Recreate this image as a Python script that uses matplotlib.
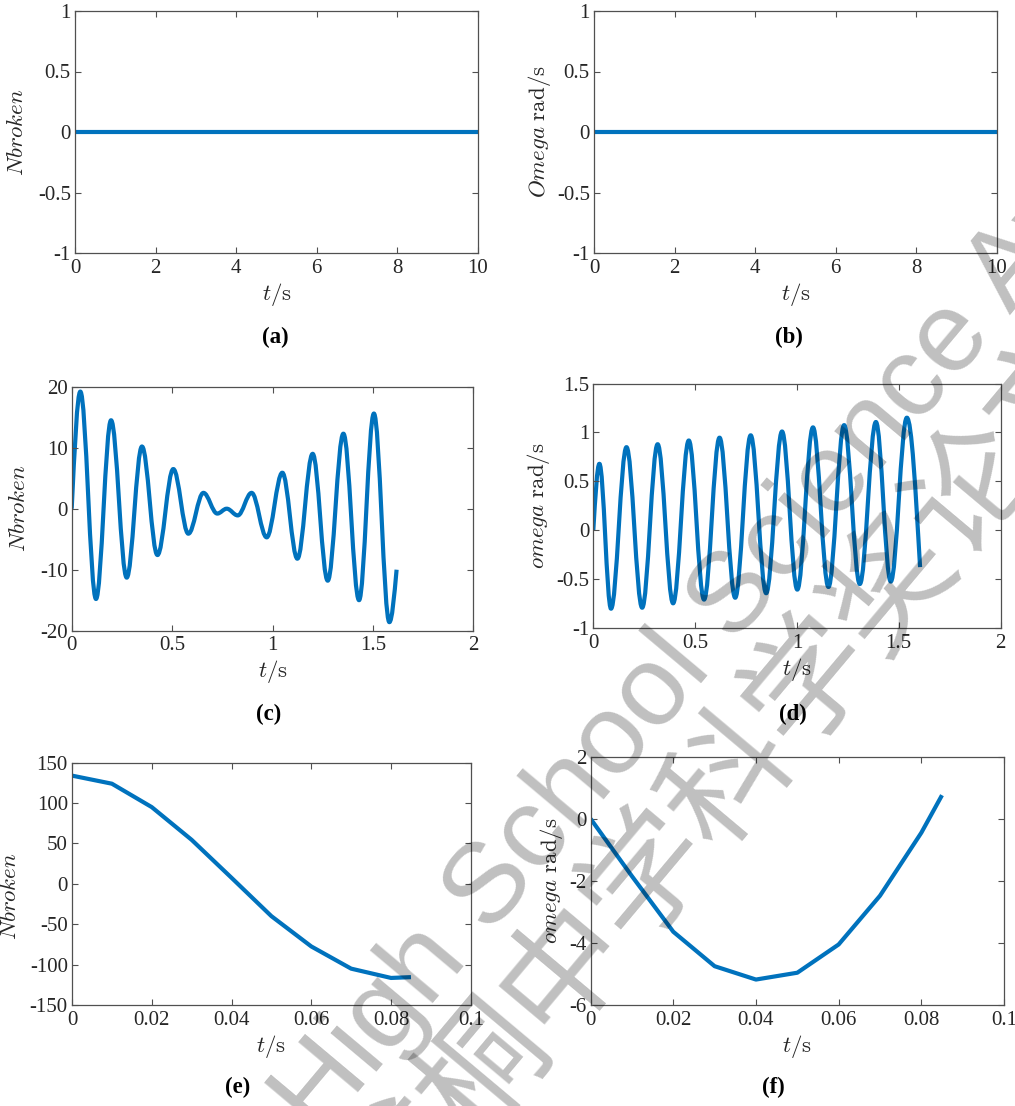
import matplotlib
matplotlib.use("Agg")
import matplotlib.pyplot as plt
from matplotlib.path import Path
from matplotlib.patches import PathPatch
from matplotlib.ticker import FuncFormatter

plt.rcParams['font.family'] = ['Liberation Serif', 'DejaVu Serif']
plt.rcParams['mathtext.fontset'] = 'cm'
plt.rcParams['axes.unicode_minus'] = False

# ---------------- data ----------------
a_t = [0, 10]
a_y = [0, 0]
b_t = [0, 10]
b_y = [0, 0]

# (c) Nbroken oscillation: start, alternating extrema, end
c_t = [0.0, 0.043, 0.121, 0.196, 0.274, 0.350, 0.427, 0.506, 0.581, 0.656, 0.725,
       0.772, 0.827, 0.896, 0.971, 1.049, 1.124, 1.200, 1.275, 1.353, 1.431,
       1.505, 1.582, 1.618]
c_y = [0.0, 19.2, -14.8, 14.5, -11.3, 10.2, -7.6, 6.5, -4.1, 2.6, -0.8,
       0.0, -1.1, 2.6, -4.7, 5.9, -8.2, 9.0, -11.8, 12.3, -15.0,
       15.6, -18.6, -10.0]

# (d) omega oscillation: start, alternating extrema, end
d_t = [0.0, 0.030, 0.087, 0.163, 0.240, 0.316, 0.392, 0.469, 0.544, 0.620, 0.697,
       0.773, 0.849, 0.927, 1.002, 1.079, 1.155, 1.232, 1.309, 1.388, 1.461,
       1.540, 1.605]
d_y = [0.0, 0.68, -0.80, 0.85, -0.79, 0.88, -0.745, 0.918, -0.707, 0.947, -0.688,
       0.971, -0.642, 1.010, -0.605, 1.052, -0.578, 1.075, -0.548, 1.107, -0.523,
       1.151, -0.375]

e_t = [0, 0.01, 0.02, 0.03, 0.04, 0.05, 0.06, 0.07, 0.08, 0.085]
e_y = [134, 124, 95, 54.5, 7.5, -40, -77.5, -105, -116.5, -115.5]

f_t = [0, 0.01, 0.02, 0.03, 0.04, 0.05, 0.06, 0.07, 0.08, 0.085]
f_y = [0, -1.85, -3.64, -4.75, -5.18, -4.96, -4.05, -2.48, -0.45, 0.76]

ylabels = [r'$Nbroken$', r'$Omega\ \mathrm{rad/s}$', r'$Nbroken$',
           r'$omega\ \mathrm{rad/s}$', r'$Nbroken$', r'$omega\ \mathrm{rad/s}$']
xlabel = r'$t/\mathrm{s}$'
panel_tags = ['(a)', '(b)', '(c)', '(d)', '(e)', '(f)']

BLUE = '#0072BD'
W, H = 1015, 1106

fig = plt.figure(figsize=(W / 100, H / 100), dpi=100)


def px_axes(l, t, r, b):
    return fig.add_axes([l / W, 1 - b / H, (r - l) / W, (b - t) / H])


def smooth_path(ts, ys):
    n = len(ts)
    slopes = []
    for i in range(n):
        if i == 0:
            m = 1.5 * (ys[1] - ys[0]) / (ts[1] - ts[0])
        elif i == n - 1:
            m = 1.5 * (ys[-1] - ys[-2]) / (ts[-1] - ts[-2])
        elif (ys[i] - ys[i - 1]) * (ys[i + 1] - ys[i]) <= 0:
            m = 0.0
        else:
            m = 0.5 * ((ys[i] - ys[i - 1]) / (ts[i] - ts[i - 1]) +
                       (ys[i + 1] - ys[i]) / (ts[i + 1] - ts[i]))
        slopes.append(m)
    verts = [(ts[0], ys[0])]
    codes = [Path.MOVETO]
    for i in range(n - 1):
        dt = ts[i + 1] - ts[i]
        h0 = 0.363 * dt if slopes[i] == 0 else dt / 3
        h1 = 0.363 * dt if slopes[i + 1] == 0 else dt / 3
        verts += [(ts[i] + h0, ys[i] + slopes[i] * h0),
                  (ts[i + 1] - h1, ys[i + 1] - slopes[i + 1] * h1),
                  (ts[i + 1], ys[i + 1])]
        codes += [Path.CURVE4] * 3
    return Path(verts, codes)


boxes = [(75, 11, 478, 253), (594, 11, 997, 253),
         (71.7, 386.7, 473.3, 630.7), (593.3, 383.5, 1000.5, 628.3),
         (72, 762.7, 470.8, 1005), (590.6, 756.7, 1004, 1005)]
xlims = [(0, 10), (0, 10), (0, 2), (0, 2), (0, 0.1), (0, 0.1)]
ylims = [(-1, 1), (-1, 1), (-20, 20), (-1, 1.5), (-150, 150), (-6, 2)]
xticks = [[0, 2, 4, 6, 8, 10], [0, 2, 4, 6, 8, 10], [0, 0.5, 1, 1.5, 2],
          [0, 0.5, 1, 1.5, 2], [0, 0.02, 0.04, 0.06, 0.08, 0.1],
          [0, 0.02, 0.04, 0.06, 0.08, 0.1]]
yticks = [[-1, -0.5, 0, 0.5, 1], [-1, -0.5, 0, 0.5, 1], [-20, -10, 0, 10, 20],
          [-1, -0.5, 0, 0.5, 1, 1.5], [-150, -100, -50, 0, 50, 100, 150],
          [-6, -4, -2, 0, 2]]
ylab_x = [-0.1427, -0.134, -0.129, -0.1346, -0.153, -0.0957]
ylab_y = [0.5, 0.5, 0.5, 0.5, 0.45, 0.5]
tag_pos = [(275, 337), (789, 337), (269, 714), (793, 714), (238, 1087), (773, 1087)]

fmt = FuncFormatter(lambda v, p: ('%g' % v))

axes = []
for k in range(6):
    l, t, r, b = boxes[k]
    ax = px_axes(l, t, r, b)
    axes.append(ax)
    ax.set_xlim(*xlims[k])
    ax.set_ylim(*ylims[k])
    ax.set_xticks(xticks[k])
    ax.set_yticks(yticks[k])
    ax.xaxis.set_major_formatter(fmt)
    ax.yaxis.set_major_formatter(fmt)
    ax.tick_params(direction='in', length=4, width=0.8, colors='#505050',
                   labelcolor='#262626', labelsize=15, top=True, right=True)
    ax.tick_params(axis='x', pad=4)
    ax.tick_params(axis='y', pad=3)
    for s in ax.spines.values():
        s.set_color('#505050')
        s.set_linewidth(0.9)
    ax.set_xlabel(xlabel, fontsize=16.5, color='#262626', va='center')
    ax.xaxis.set_label_coords(0.5, -41 / (b - t))
    ax.set_ylabel(ylabels[k], fontsize=16.5, color='#262626', va='center')
    ax.yaxis.set_label_coords(ylab_x[k], ylab_y[k])
    fig.text(tag_pos[k][0] / W, 1 - tag_pos[k][1] / H, panel_tags[k],
             fontsize=16.5, fontweight='bold', ha='center', va='center')

axes[0].plot(a_t, a_y, color=BLUE, lw=3, solid_capstyle='butt')
axes[1].plot(b_t, b_y, color=BLUE, lw=3, solid_capstyle='butt')
axes[2].add_patch(PathPatch(smooth_path(c_t, c_y), fill=False, edgecolor=BLUE,
                            lw=3, capstyle='butt', joinstyle='round'))
axes[3].add_patch(PathPatch(smooth_path(d_t, d_y), fill=False, edgecolor=BLUE,
                            lw=3, capstyle='butt', joinstyle='round'))
axes[4].plot(e_t, e_y, color=BLUE, lw=3, solid_capstyle='butt')
axes[5].plot(f_t, f_y, color=BLUE, lw=3, solid_capstyle='butt')

# watermark
fig.text(319 / W, 1 - 1140 / H, 'High School Science Award', fontsize=82,
         family=['Liberation Sans', 'DejaVu Sans'],
         color='black', alpha=0.25,
         rotation=50, rotation_mode='anchor', ha='left', va='baseline')
fig.text(309 / W, 1 - 1333.5 / H, '丘成桐中学科学奖论文', fontsize=91,
         family=['Noto Sans CJK SC', 'DejaVu Sans'], color='black', alpha=0.25,
         rotation=50, rotation_mode='anchor', ha='left', va='baseline')

fig.savefig('out.png', dpi=100)
